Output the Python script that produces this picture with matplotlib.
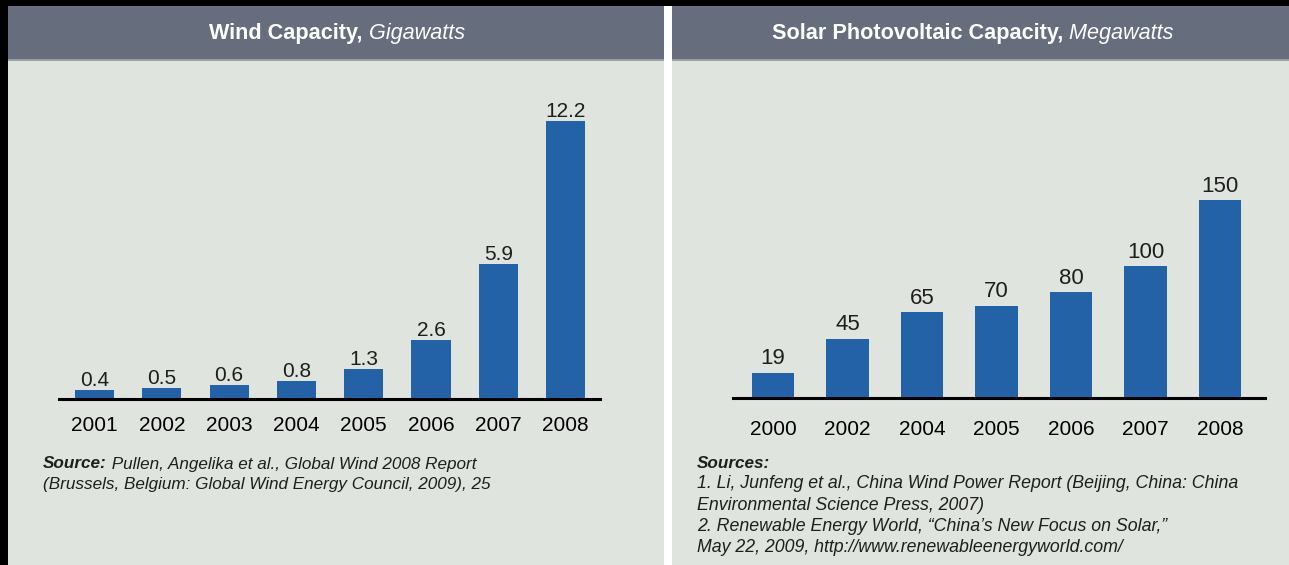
import matplotlib.pyplot as plt
from matplotlib.patches import Rectangle

plt.rcParams['font.family'] = ['Liberation Sans', 'DejaVu Sans']

# data
wind_years = ['2001', '2002', '2003', '2004', '2005', '2006', '2007', '2008']
wind_gw = [0.4, 0.5, 0.6, 0.8, 1.3, 2.6, 5.9, 12.2]
wind_labels = ['0.4', '0.5', '0.6', '0.8', '1.3', '2.6', '5.9', '12.2']

solar_years = ['2000', '2002', '2004', '2005', '2006', '2007', '2008']
solar_mw = [19, 45, 65, 70, 80, 100, 150]
solar_labels = ['19', '45', '65', '70', '80', '100', '150']

wind_source = ['(Brussels, Belgium: Global Wind Energy Council, 2009), 25']
solar_sources = ['1. Li, Junfeng et al., China Wind Power Report (Beijing, China: China',
                 'Environmental Science Press, 2007)',
                 '2. Renewable Energy World, \u201cChina\u2019s New Focus on Solar,\u201d',
                 'May 22, 2009, http://www.renewableenergyworld.com/']

W, H = 1289, 565
HEADER = '#666e7d'
PANEL = '#dfe4de'
BAR = '#2462a8'
TXT = '#1e1e1e'

fig = plt.figure(figsize=(W / 100, H / 100), dpi=100)
fig.patch.set_facecolor('black')


def px_rect(x0, y0, x1, y1, color):
    # pixel coords measured from top-left
    fig.add_artist(Rectangle((x0 / W, 1 - y1 / H), (x1 - x0) / W, (y1 - y0) / H,
                             transform=fig.transFigure, facecolor=color,
                             edgecolor='none', zorder=0))


# panels and headers
px_rect(8, 6, 664, H, PANEL)
px_rect(672, 6, W, H, PANEL)
px_rect(664, 6, 672, H, 'white')
px_rect(8, 6, 664, 60, HEADER)
px_rect(672, 6, W, 60, HEADER)
px_rect(8, 59, 664, 61, '#98a0a8')
px_rect(672, 59, W, 61, '#98a0a8')

renderer = fig.canvas.get_renderer()


def two_part(xc, y, a, b, size, color):
    t1 = fig.text(0, 1 - y / H, a, fontsize=size, color=color, fontweight='bold',
                  va='center')
    t2 = fig.text(0, 1 - y / H, b, fontsize=size, color=color, fontstyle='italic',
                  va='center')
    wa = t1.get_window_extent(renderer).width
    wb = t2.get_window_extent(renderer).width
    x0 = xc - (wa + wb) / 2
    t1.set_x(x0 / W)
    t2.set_x((x0 + wa) / W)


two_part(337, 33, 'Wind Capacity,', ' Gigawatts', 15.6, 'white')
two_part(973, 33, 'Solar Photovoltaic Capacity,', ' Megawatts', 15.6, 'white')


def make_axes(x0, x1, y_top, y_base):
    ax = fig.add_axes([x0 / W, 1 - y_base / H, (x1 - x0) / W, (y_base - y_top) / H])
    ax.patch.set_alpha(0)
    for s in ['top', 'right', 'left']:
        ax.spines[s].set_visible(False)
    ax.spines['bottom'].set_linewidth(2.2)
    ax.spines['bottom'].set_color('black')
    ax.set_yticks([])
    ax.tick_params(axis='x', length=0, labelsize=15, colors='black')
    return ax


# wind chart
ax1 = make_axes(59, 600, 100, 399)
x1 = list(range(len(wind_years)))
b1 = ax1.bar(x1, wind_gw, width=0.58, color=BAR)
ax1.bar_label(b1, labels=wind_labels, padding=0, fontsize=15, color=TXT)
ax1.set_xlim((59 - 94.5) / 67.3, (600 - 94.5) / 67.3)
ax1.set_ylim(0, (399 - 100) / 22.8)
ax1.set_xticks(x1)
ax1.set_xticklabels(wind_years)
ax1.tick_params(axis='x', pad=12)

# solar chart
ax2 = make_axes(733, 1265, 100, 398)
x2 = list(range(len(solar_years)))
b2 = ax2.bar(x2, solar_mw, width=0.57, color=BAR)
ax2.bar_label(b2, labels=solar_labels, padding=2.5, fontsize=16, color=TXT)
ax2.set_xlim((733 - 773) / 74.5, (1265 - 773) / 74.5)
ax2.set_ylim(0, (398 - 100) / 1.32)
ax2.set_xticks(x2)
ax2.set_xticklabels(solar_years)
ax2.tick_params(axis='x', pad=15.5)

# sources
SRC = 12.3
t = fig.text(43 / W, 1 - 464 / H, 'Source:', fontsize=SRC, fontweight='bold',
             fontstyle='italic', color=TXT, va='center')
wa = t.get_window_extent(renderer).width
fig.text((43 + wa) / W, 1 - 464 / H, ' Pullen, Angelika et al., Global Wind 2008 Report',
         fontsize=SRC, fontstyle='italic', color=TXT, va='center')
for i, line in enumerate(wind_source):
    fig.text(43 / W, 1 - (484 + 20 * i) / H, line, fontsize=SRC, fontstyle='italic',
             color=TXT, va='center')

fig.text(697 / W, 1 - 464 / H, 'Sources:', fontsize=SRC, fontweight='bold',
         fontstyle='italic', color=TXT, va='center')
for i, line in enumerate(solar_sources):
    fig.text(697 / W, 1 - (484 + 21.3 * i) / H, line, fontsize=SRC + 0.5,
             fontstyle='italic', color=TXT, va='center')

fig.savefig('out.png', dpi=100, facecolor=fig.get_facecolor())
